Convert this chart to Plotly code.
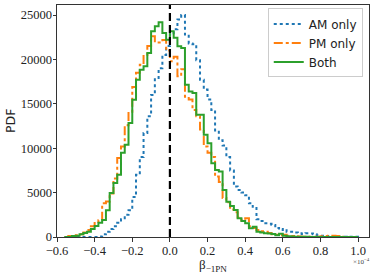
import numpy as np
import plotly.graph_objects as go

# Histogram bin left edges (units of 1e-4), bin width 0.02
bin_start = -0.56
bin_width = 0.02

am_only = [0, 0, 0, 0, 0, 0, 0, 0, 0, 50, 300, 600, 900, 1200, 1600, 2000, 2500, 3000,
           4500, 7000, 9000, 11700, 13600, 16000, 17900, 19000, 20500, 21500, 22800, 23400,
           24500, 25000, 22800, 21800, 21700, 19900, 17700, 16600, 15500, 14300, 12000, 10900,
           10300, 9000, 7500, 5700, 5300, 5000, 4700, 3800, 3400, 2000, 1800, 1550, 1500, 1350,
           1000, 800, 900, 600, 600, 500, 420, 350, 420, 400, 300, 200, 150, 110, 80, 60, 40,
           30, 30, 20, 30, 20]

pm_only = [0, 100, 120, 200, 300, 500, 800, 1200, 1700, 1900, 3800, 4000, 4900, 6600, 8900,
           10200, 12600, 14100, 16900, 18500, 19400, 20500, 21500, 22600, 21900, 21900, 22200,
           21000, 19800, 20300, 18100, 18900, 15800, 15500, 14300, 13600, 12100, 10200, 9500,
           9000, 6800, 6200, 4400, 3900, 3100, 2800, 2200, 1900, 2100, 1200, 1000, 800, 650,
           600, 450, 300, 250, 200, 250, 150, 100, 80, 50, 40, 30, 30, 20, 20, 80, 100, 150,
           150, 100, 20, 0, 0, 0, 0]

both = [0, 0, 100, 150, 300, 450, 600, 900, 1240, 1600, 1920, 3000, 4960, 6090, 7000, 9480,
        10380, 12830, 15460, 17720, 18850, 19220, 20730, 23170, 23740, 24200, 22990, 22230,
        23170, 22430, 21480, 21300, 17150, 16400, 16220, 13770, 13770, 11510, 10570, 8320,
        7560, 7370, 5300, 3980, 3500, 3050, 2110, 1800, 1550, 980, 1160, 600, 500, 420, 400,
        350, 200, 380, 150, 80, 60, 40, 30, 20, 20, 10, 10, 5, 0, 0, 0, 0, 0, 0, 0, 0, 0, 0]

series_names = ["AM only", "PM only", "Both"]
x_ticks = [-0.6, -0.4, -0.2, 0.0, 0.2, 0.4, 0.6, 0.8, 1.0]
x_tick_labels = ["\u22120.6", "\u22120.4", "\u22120.2", "0.0", "0.2", "0.4", "0.6", "0.8", "1.0"]
y_ticks = [0, 5000, 10000, 15000, 20000, 25000]
y_tick_labels = ["0", "5000", "10000", "15000", "20000", "25000"]


def step_path(vals):
    n = len(vals)
    edges = bin_start + bin_width * np.arange(n + 1)
    xs = [edges[0]] + list(edges[:-1]) + [edges[-1], edges[-1]]
    ys = [0] + list(vals) + [vals[-1], 0]
    return xs, ys


colors = ["#1f77b4", "#ff7f0e", "#2ca02c"]
dashes = ["dot", "dashdot", "solid"]
data = [am_only, pm_only, both]

fig = go.Figure()
for name, vals, col, dash in zip(series_names, data, colors, dashes):
    xs, ys = step_path(vals)
    fig.add_trace(go.Scatter(x=xs, y=ys, mode="lines", name=name,
                             line=dict(color=col, width=2, dash=dash, shape="hv")))

fig.add_shape(type="line", xref="x", yref="paper", x0=0, x1=0, y0=0, y1=1,
              line=dict(color="black", width=2.2, dash="8px,4px"))

serif = "Liberation Serif, DejaVu Serif, serif"
fig.update_layout(
    width=374, height=275,
    margin=dict(l=57, r=5, t=5, b=38, autoexpand=False),
    paper_bgcolor="white", plot_bgcolor="white",
    showlegend=True,
    legend=dict(x=0.98, y=0.985, xanchor="right", yanchor="top",
                bgcolor="rgba(255,255,255,0.8)", bordercolor="#cccccc", borderwidth=1,
                font=dict(family="DejaVu Sans", size=12, color="#222"),
                itemwidth=30, tracegroupgap=2),
    font=dict(family=serif, size=12.5, color="#222"),
)
fig.update_xaxes(range=[-0.6, 1.058], tickvals=x_ticks, ticktext=x_tick_labels,
                 showgrid=False, zeroline=False, showline=True, linecolor="#333",
                 linewidth=1, mirror=True, ticks="outside", ticklen=3.5, tickcolor="#333",
                 automargin=False, ticklabelstandoff=-2)
fig.update_yaxes(range=[0, 26130], tickvals=y_ticks, ticktext=y_tick_labels,
                 showgrid=False, zeroline=False, showline=True, linecolor="#333",
                 linewidth=1, mirror=True, ticks="outside", ticklen=3.5, tickcolor="#333",
                 automargin=False, ticklabelstandoff=-2)
fig.add_annotation(x=0.5, y=0, xref="paper", yref="paper", xanchor="center", yanchor="middle",
                   yshift=-28, text="\u03b2<sub>\u22121PN</sub>", showarrow=False,
                   font=dict(family=serif, size=13, color="#222"))
fig.add_annotation(x=0, y=0.5, xref="paper", yref="paper", xanchor="center", yanchor="middle",
                   xshift=-47, text="PDF", textangle=-90, showarrow=False,
                   font=dict(family="DejaVu Sans", size=12.5, color="#222"))
fig.add_annotation(x=1.0, y=0, xref="paper", yref="paper", xanchor="right", yanchor="top",
                   yshift=-18, xshift=3, text="\u00d710<sup>\u22124</sup>", showarrow=False,
                   font=dict(family=serif, size=7, color="#444"))

fig.write_html("out.html", config={"displayModeBar": False},
               post_script="document.body.style.margin='0';document.body.style.overflow='hidden';")
